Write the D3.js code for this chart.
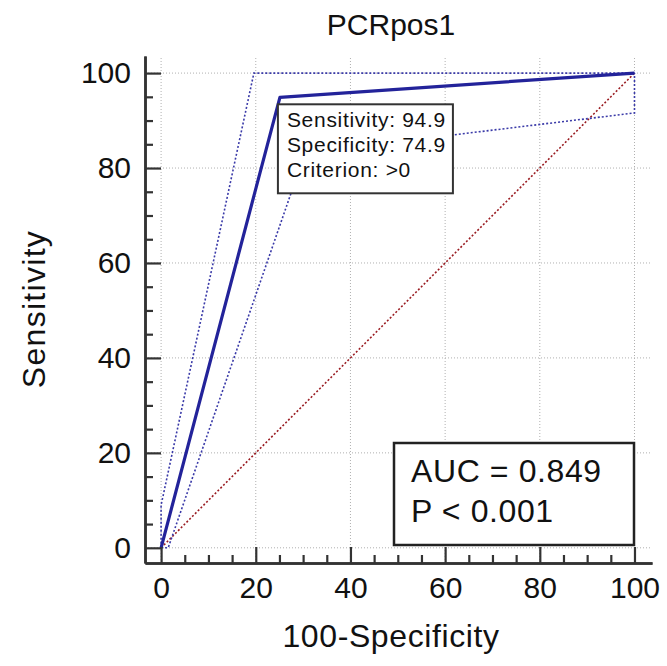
<!DOCTYPE html>
<html>
<head>
<meta charset="utf-8">
<script src="https://cdn.jsdelivr.net/npm/d3@7"></script>
<style>
  body { margin: 0; background: #fff; }
  svg { display: block; font-family: "Liberation Sans", Arial, sans-serif; }
</style>
</head>
<body>
<div id="chart"></div>
<script>
// ROC curve for PCRpos1 (100-Specificity vs Sensitivity)
const rocX = [0, 25.1, 100];
const rocY = [0, 94.9, 100];
// 95% confidence bounds
const upperX = [0, 0, 19.6, 100];
const upperY = [0, 9, 100, 100];
const lowerX = [0, 1.5, 30.4, 100, 100];
const lowerY = [0, 0, 83.2, 91.6, 100];
// reference diagonal
const diagX = [0, 100];
const diagY = [0, 100];

const majorTicks = [0, 20, 40, 60, 80, 100];
const minorTicks = d3.range(0, 101, 5).filter(v => v % 20 !== 0);

const cutoff = { sens: 94.9, spec: 74.9, criterion: ">0" };
const auc = "0.849", pval = "0.001";

const width = 667, height = 666;
const svg = d3.select("#chart").append("svg").attr("width", width).attr("height", height);

const x = d3.scaleLinear().domain([-3.4, 103.7]).range([145, 652]);
const y = d3.scaleLinear().domain([-3.2, 103.6]).range([563, 56]);

// grid
const grid = svg.append("g").attr("stroke", "#b0b0b0").attr("stroke-width", 1).attr("stroke-dasharray", "1,2");
grid.selectAll(".gx").data(majorTicks).join("line")
  .attr("x1", d => x(d)).attr("x2", d => x(d))
  .attr("y1", y.range()[0]).attr("y2", y.range()[1]);
grid.selectAll(".gy").data(majorTicks).join("line")
  .attr("y1", d => y(d)).attr("y2", d => y(d))
  .attr("x1", x.range()[0]).attr("x2", x.range()[1]);

const line = d3.line().x(d => x(d[0])).y(d => y(d[1]));
const pts = (xs, ys) => xs.map((v, i) => [v, ys[i]]);

// diagonal
svg.append("path").datum(pts(diagX, diagY)).attr("d", line)
  .attr("fill", "none").attr("stroke", "#9a1c22").attr("stroke-width", 1.6).attr("stroke-dasharray", "2,2");

// CI bounds
[pts(upperX, upperY), pts(lowerX, lowerY)].forEach(p => {
  svg.append("path").datum(p).attr("d", line)
    .attr("fill", "none").attr("stroke", "#3a3aa8").attr("stroke-width", 1.6).attr("stroke-dasharray", "2,2");
});

// ROC curve
svg.append("path").datum(pts(rocX, rocY)).attr("d", line)
  .attr("fill", "none").attr("stroke", "#23239a").attr("stroke-width", 3.2).attr("stroke-linejoin", "round");

// axes
function styleAxis(g) {
  g.select(".domain").attr("stroke", "#333").attr("stroke-width", 2.5);
  g.selectAll(".tick line").attr("stroke", "#333").attr("stroke-width", 2.2);
  g.selectAll("text").attr("font-size", 30).attr("fill", "#111").attr("font-family", "Liberation Sans, Arial, sans-serif");
}

svg.append("g").attr("transform", `translate(${x.range()[0]},0)`)
  .call(d3.axisLeft(y).tickValues(minorTicks).tickSize(-8).tickSizeOuter(0).tickFormat(""))
  .call(styleAxis);
svg.append("g").attr("transform", `translate(${x.range()[0]},0)`)
  .call(d3.axisLeft(y).tickValues(majorTicks).tickSize(-16).tickSizeOuter(0).tickPadding(14))
  .call(styleAxis);

svg.append("g").attr("transform", `translate(0,${y.range()[0]})`)
  .call(d3.axisBottom(x).tickValues(minorTicks).tickSize(-8).tickSizeOuter(0).tickFormat(""))
  .call(styleAxis);
svg.append("g").attr("transform", `translate(0,${y.range()[0]})`)
  .call(d3.axisBottom(x).tickValues(majorTicks).tickSize(-16).tickSizeOuter(0).tickPadding(14))
  .call(styleAxis);

// titles
svg.append("text").attr("x", 391).attr("y", 35).attr("text-anchor", "middle")
  .attr("font-size", 30).attr("fill", "#111").text("PCRpos1");
svg.append("text").attr("x", 391).attr("y", 647).attr("text-anchor", "middle")
  .attr("font-size", 32).attr("letter-spacing", 0.6).attr("fill", "#111").text("100-Specificity");
svg.append("text").attr("transform", "translate(45,309) rotate(-90)").attr("text-anchor", "middle")
  .attr("font-size", 32).attr("letter-spacing", 1.3).attr("fill", "#111").text("Sensitivity");

// cutoff tooltip box
const bx = x(100 - cutoff.spec) - 2, by = y(cutoff.sens) + 7;
const tip = svg.append("g").attr("transform", `translate(${bx},${by})`);
tip.append("rect").attr("width", 175).attr("height", 89)
  .attr("fill", "#fff").attr("stroke", "#333").attr("stroke-width", 2);
tip.selectAll("text")
  .data([`Sensitivity: ${cutoff.sens}`, `Specificity: ${cutoff.spec}`, `Criterion: ${cutoff.criterion}`])
  .join("text")
  .attr("x", 9).attr("y", (d, i) => 23 + i * 25)
  .attr("font-size", 21).attr("letter-spacing", 0.7).attr("fill", "#111").text(d => d);

// AUC box
const ab = svg.append("g").attr("transform", "translate(394,443)");
ab.append("rect").attr("width", 240).attr("height", 102)
  .attr("fill", "#fff").attr("stroke", "#222").attr("stroke-width", 2.5);
ab.append("text").attr("x", 17).attr("y", 39).attr("font-size", 32).attr("letter-spacing", 0.6).attr("fill", "#111").text(`AUC = ${auc}`);
ab.append("text").attr("x", 17).attr("y", 79).attr("font-size", 32).attr("letter-spacing", 0.6).attr("fill", "#111").text(`P < ${pval}`);
</script>
</body>
</html>
